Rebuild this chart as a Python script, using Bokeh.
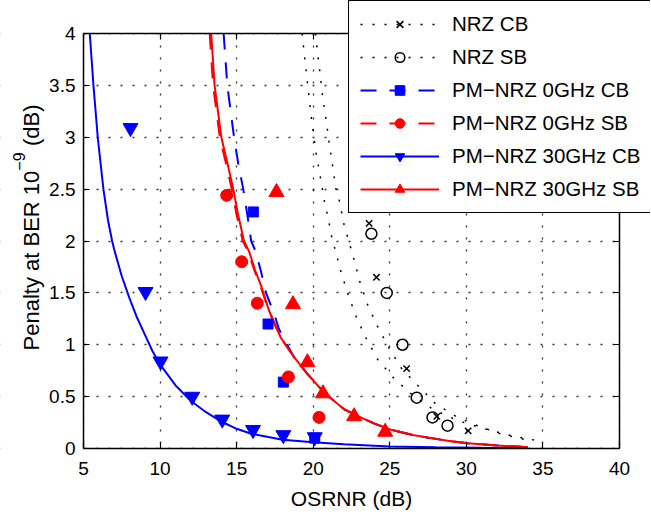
import math
from bokeh.plotting import figure
from bokeh.models import (Range1d, FixedTicker, LinearAxis, Legend, LegendItem, Label, BoxAnnotation)
from bokeh.embed import file_html
from bokeh.resources import INLINE

# ---------------- data ----------------
x_ticks = [5, 10, 15, 20, 25, 30, 35, 40]
y_ticks = [0, 0.5, 1, 1.5, 2, 2.5, 3, 3.5, 4]
y_tick_labels = ["0", "0.5", "1", "1.5", "2", "2.5", "3", "3.5", "4"]

# measured points
nrz_cb_x = [23.65, 24.13, 26.1, 28.07, 30.12]
nrz_cb_y = [2.17, 1.65, 0.77, 0.31, 0.17]
nrz_sb_x = [23.8, 24.8, 25.83, 26.76, 27.79, 28.77]
nrz_sb_y = [2.07, 1.50, 1.0, 0.49, 0.30, 0.22]
pm0_cb_x = [16.09, 17.05, 18.05, 20.1]
pm0_cb_y = [2.28, 1.2, 0.64, 0.1]
pm0_sb_x = [14.35, 15.33, 16.35, 18.38, 20.38]
pm0_sb_y = [2.44, 1.8, 1.4, 0.69, 0.3]
pm30_cb_x = [8.07, 9.05, 10.03, 12.1, 14.06, 16.07, 18.05, 20.1]
pm30_cb_y = [3.09, 1.51, 0.84, 0.5, 0.28, 0.18, 0.13, 0.11]
pm30_sb_x = [17.6, 18.68, 19.62, 20.64, 22.67, 24.7]
pm30_sb_y = [2.47, 1.39, 0.83, 0.53, 0.31, 0.16]

# fitted curves
fit_nrz_cb_x = [19.28, 19.36, 19.53, 19.71, 19.88, 20.18, 20.45, 20.71, 21.03, 21.19, 21.8,
                22.24, 22.78, 23.43, 24.2, 25.18, 26.37, 27.79, 29.42, 31.16, 33.0, 34.5]
fit_nrz_cb_y = [4.0, 3.88, 3.65, 3.41, 3.19, 2.85, 2.63, 2.40, 2.18, 2.05, 1.71,
                1.50, 1.28, 1.07, 0.86, 0.69, 0.53, 0.38, 0.27, 0.19, 0.12, 0.08]
fit_nrz_sb_x = [20.15, 20.23, 20.42, 20.6, 20.82, 21.03, 21.25, 21.47, 21.69, 22.01, 22.63,
                23.06, 23.54, 24.19, 24.95, 25.72, 26.81, 28.0, 29.42, 30.73, 32.25, 34.3]
fit_nrz_sb_y = [4.0, 3.88, 3.65, 3.41, 3.19, 2.96, 2.74, 2.51, 2.40, 2.16, 1.84,
                1.60, 1.39, 1.18, 0.97, 0.78, 0.61, 0.43, 0.30, 0.22, 0.14, 0.07]
fit_pm0_cb_x = [14.15, 14.39, 14.83, 15.1, 15.43, 15.7, 15.95, 16.24, 16.6, 16.92, 17.44,
                17.77, 18.3, 18.75, 19.62, 20.7, 22.0, 23.1, 24.0, 25.1, 26.5, 27.7, 29.0,
                30.1, 32.0, 34.0]
fit_pm0_cb_y = [4.0, 3.5, 3.0, 2.75, 2.5, 2.25, 2.0, 1.9, 1.7, 1.5, 1.3,
                1.15, 1.0, 0.88, 0.72, 0.54, 0.38, 0.3, 0.24, 0.18, 0.13, 0.1, 0.07,
                0.05, 0.03, 0.012]
fit_pm0_sb_x = [13.24, 13.46, 13.9, 14.3, 14.68, 15.0, 15.4, 15.74, 16.15, 16.53, 17.09,
                17.87, 18.75, 19.62, 20.7, 22.0, 23.1, 24.0, 25.1, 26.5, 27.7, 29.0,
                30.1, 32.0, 34.0]
fit_pm0_sb_y = [4.0, 3.5, 3.0, 2.75, 2.5, 2.25, 2.0, 1.9, 1.72, 1.58, 1.33,
                1.07, 0.88, 0.72, 0.54, 0.38, 0.3, 0.24, 0.18, 0.13, 0.1, 0.07,
                0.05, 0.03, 0.012]
fit_pm30_cb_x = [5.41, 5.65, 5.93, 6.3, 6.6, 6.87, 7.0, 7.5, 8.0, 8.5, 9.0, 9.5, 10.0,
                 11.0, 12.0, 13.0, 14.0, 15.0, 16.0, 18.0, 20.0, 22.0, 25.0, 28.0, 31.0, 34.0]
fit_pm30_cb_y = [4.0, 3.5, 3.0, 2.5, 2.2, 2.0, 1.92, 1.66, 1.45, 1.26, 1.1, 0.94, 0.81,
                 0.61, 0.46, 0.35, 0.26, 0.19, 0.14, 0.085, 0.06, 0.04, 0.02, 0.012, 0.007,
                 0.004]
fit_pm30_sb_x = [13.34, 13.56, 14.0, 14.4, 14.78, 15.1, 15.48, 15.81, 16.2, 16.57, 17.11,
                 17.88, 18.75, 19.62, 20.7, 22.0, 23.1, 24.0, 25.1, 26.5, 27.7, 29.0,
                 30.1, 32.0, 34.0]
fit_pm30_sb_y = [4.0, 3.5, 3.0, 2.75, 2.5, 2.25, 2.0, 1.9, 1.72, 1.58, 1.33,
                 1.07, 0.88, 0.72, 0.54, 0.38, 0.3, 0.24, 0.18, 0.13, 0.1, 0.07,
                 0.05, 0.03, 0.012]

legend_labels = ["NRZ CB", "NRZ SB", "PM\u2212NRZ 0GHz CB", "PM\u2212NRZ 0GHz SB",
                 "PM\u2212NRZ 30GHz CB", "PM\u2212NRZ 30GHz SB"]
x_label = "OSRNR (dB)"
y_label_main = "Penalty at BER 10"
y_label_sup = "\u22129"
y_label_tail = "(dB)"

# ---------------- geometry (pixels) ----------------
W, H = 650, 515
BOX_L, BOX_R, BOX_T, BOX_B = 83, 619, 33, 448
X0, X1 = x_ticks[0], x_ticks[-1]
Y0, Y1 = y_ticks[0], y_ticks[-1]
kx = (BOX_R - BOX_L) / (X1 - X0)
ky = (BOX_B - BOX_T) / (Y1 - Y0)
xr = Range1d(X0 - BOX_L / kx, X0 + (W - BOX_L) / kx)
yr = Range1d(Y0 - (H - BOX_B) / ky, Y1 + BOX_T / ky)

FONT = "Liberation Sans"
BLUE = "#0000FF"
RED = "#FF0000"

p = figure(width=W, height=H, x_range=xr, y_range=yr, output_backend="svg",
           toolbar_location=None, x_axis_location=None, y_axis_location=None,
           min_border=0, min_border_left=0, min_border_right=0,
           min_border_top=0, min_border_bottom=0)
p.background_fill_color = "white"
p.border_fill_color = "white"
p.outline_line_color = None

# dotted grid
for g, t in ((p.xgrid[0], x_ticks), (p.ygrid[0], y_ticks)):
    g.ticker = FixedTicker(ticks=t)
    g.grid_line_color = "black"
    g.grid_line_dash = "2 10"
    g.grid_line_width = 1.3
    g.grid_line_alpha = 0.8

# blank the region outside the axes box (grid lines span the whole frame)
for l, r, b, t in ((xr.start, X0, yr.start, yr.end), (X1, xr.end, yr.start, yr.end),
                   (xr.start, xr.end, Y1, yr.end), (xr.start, xr.end, yr.start, Y0)):
    p.add_layout(BoxAnnotation(left=l, right=r, bottom=b, top=t, fill_color="white",
                               fill_alpha=1.0, line_color=None, level="underlay"))

# axes as a closed box
def mk_axis(ticks, loc, bounds, show_labels):
    ax = LinearAxis(ticker=FixedTicker(ticks=ticks), fixed_location=loc, bounds=bounds,
                    major_tick_in=6, major_tick_out=0, minor_tick_line_color=None,
                    axis_line_color="black", axis_line_width=1.5,
                    major_tick_line_color="black", major_tick_line_width=1.2)
    if show_labels:
        ax.major_label_text_font = FONT
        ax.major_label_text_font_size = "19px"
        ax.major_label_text_color = "black"
    else:
        ax.major_label_overrides = {tk: "" for tk in ticks}
        ax.major_label_text_font_size = "1px"
    return ax

bottom_ax = mk_axis(x_ticks, Y0, (X0, X1), True)
bottom_ax.major_label_standoff = 13
bottom_ax.axis_label = x_label
bottom_ax.axis_label_text_font = FONT
bottom_ax.axis_label_text_font_size = "21px"
bottom_ax.axis_label_text_font_style = "normal"
bottom_ax.axis_label_text_color = "black"
bottom_ax.axis_label_standoff = 9
left_ax = mk_axis(y_ticks, X0, (Y0, Y1), True)
left_ax.major_label_standoff = 8
left_ax.major_label_overrides = {t: l for t, l in zip(y_ticks, y_tick_labels)}
top_ax = mk_axis(x_ticks, Y1, (X0, X1), False)
right_ax = mk_axis(y_ticks, X1, (Y0, Y1), False)
p.add_layout(bottom_ax, "below")
p.add_layout(left_ax, "left")
p.add_layout(top_ax, "above")
p.add_layout(right_ax, "right")

# curves
r_l1 = p.line(fit_nrz_cb_x, fit_nrz_cb_y, line_color="black", line_width=1.5, line_dash="2 10")
r_l2 = p.line(fit_nrz_sb_x, fit_nrz_sb_y, line_color="black", line_width=1.5, line_dash="2 10")
r_l3 = p.line(fit_pm0_cb_x, fit_pm0_cb_y, line_color=BLUE, line_width=2, line_dash="16 13")
r_l4 = p.line(fit_pm0_sb_x, fit_pm0_sb_y, line_color=RED, line_width=2, line_dash="16 13")
r_l5 = p.line(fit_pm30_cb_x, fit_pm30_cb_y, line_color=BLUE, line_width=2)
r_l6 = p.line(fit_pm30_sb_x, fit_pm30_sb_y, line_color=RED, line_width=2)

# markers
r_m1 = p.scatter(nrz_cb_x, nrz_cb_y, marker="x", size=9, line_color="black", line_width=1.5)
r_m2 = p.scatter(nrz_sb_x, nrz_sb_y, marker="circle", size=11, fill_color=None,
                 line_color="black", line_width=1.5)
r_m3 = p.scatter(pm0_cb_x, pm0_cb_y, marker="square", size=10, fill_color=BLUE, line_color=BLUE)
r_m4 = p.scatter(pm0_sb_x, pm0_sb_y, marker="circle", size=12, fill_color=RED, line_color=RED)
r_m5 = p.scatter(pm30_cb_x, pm30_cb_y, marker="inverted_triangle", size=15,
                 fill_color=BLUE, line_color=BLUE)
r_m6 = p.scatter(pm30_sb_x, pm30_sb_y, marker="triangle", size=15, fill_color=RED, line_color=RED)

items = [LegendItem(label=lab, renderers=[ln, mk]) for lab, ln, mk in zip(
    legend_labels, [r_l1, r_l2, r_l3, r_l4, r_l5, r_l6], [r_m1, r_m2, r_m3, r_m4, r_m5, r_m6])]
LEG_L, LEG_B = 348, 213
legend = Legend(items=items, location=(LEG_L, H - LEG_B), margin=0, padding=11, spacing=9,
                glyph_width=79, glyph_height=24, label_standoff=13, label_height=24,
                label_text_font=FONT, label_text_font_size="20.5px", label_text_color="black",
                border_line_color="black", border_line_width=1.5, border_line_alpha=1.0,
                background_fill_color="white", background_fill_alpha=1.0)
p.add_layout(legend)

# y-axis label with a real-text superscript (rotated, reading upwards)
LAB_X, LAB_START = 31, 350          # baseline x, and page y where the text starts
SUP_DX = 13
main_len = 179.8
sup_len = 18.2
gap = 6.5
p.add_layout(Label(x=LAB_X, y=H - LAB_START, x_units="screen", y_units="screen",
                   angle=math.pi / 2, text=y_label_main, text_font=FONT, text_font_size="22px",
                   text_color="black", text_align="left", text_baseline="alphabetic"))
p.add_layout(Label(x=LAB_X - SUP_DX, y=H - LAB_START + main_len, x_units="screen",
                   y_units="screen", angle=math.pi / 2, text=y_label_sup, text_font=FONT,
                   text_font_size="16px", text_color="black", text_align="left",
                   text_baseline="alphabetic"))
p.add_layout(Label(x=LAB_X, y=H - LAB_START + main_len + sup_len + gap, x_units="screen",
                   y_units="screen", angle=math.pi / 2, text=y_label_tail, text_font=FONT,
                   text_font_size="22px", text_color="black", text_align="left",
                   text_baseline="alphabetic"))

open("out.html", "w").write(file_html(p, INLINE))
